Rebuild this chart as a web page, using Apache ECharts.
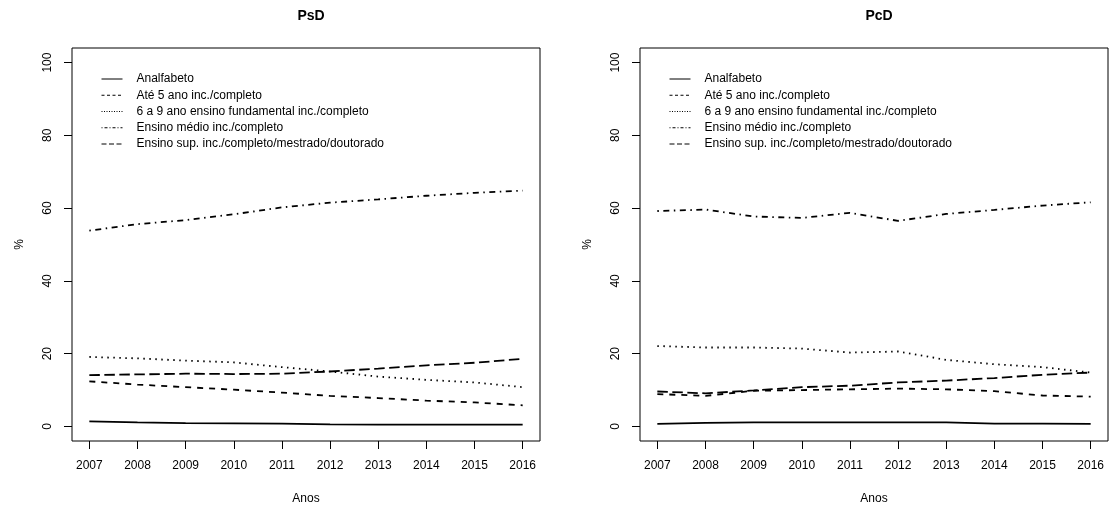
<!DOCTYPE html>
<html>
<head>
<meta charset="utf-8">
<script src="https://cdn.jsdelivr.net/npm/echarts@6/dist/echarts.min.js"></script>
<style>
html,body{margin:0;padding:0;background:#fff;}
#chart{width:1109px;height:507px;}
</style>
</head>
<body>
<div id="chart"></div>
<script>
// ---- data ----
const years = [2007, 2008, 2009, 2010, 2011, 2012, 2013, 2014, 2015, 2016];
const yTicks = [0, 20, 40, 60, 80, 100];
const panelTitles = ['PsD', 'PcD'];
const seriesNames = [
  'Analfabeto',
  'Até 5 ano inc./completo',
  '6 a 9 ano ensino fundamental inc./completo',
  'Ensino médio inc./completo',
  'Ensino sup. inc./completo/mestrado/doutorado'
];
// PsD panel
const psdAnalfabeto = [1.4, 1.1, 0.9, 0.85, 0.8, 0.55, 0.5, 0.5, 0.5, 0.5];
const psdAte5      = [12.4, 11.5, 10.8, 10.1, 9.3, 8.4, 7.8, 7.1, 6.6, 5.8];
const psd6a9       = [19.1, 18.7, 18.1, 17.6, 16.3, 15.1, 13.7, 12.8, 12.1, 10.8];
const psdMedio     = [53.8, 55.6, 56.7, 58.3, 60.2, 61.5, 62.4, 63.4, 64.2, 64.8];
const psdSup       = [14.1, 14.3, 14.5, 14.4, 14.5, 15.1, 15.9, 16.8, 17.5, 18.6];
// PcD panel
const pcdAnalfabeto = [0.7, 1.0, 1.1, 1.1, 1.1, 1.1, 1.1, 0.8, 0.8, 0.7];
const pcdAte5      = [8.9, 8.4, 9.8, 10.0, 10.2, 10.4, 10.2, 9.7, 8.5, 8.2];
const pcd6a9       = [22.1, 21.7, 21.7, 21.4, 20.3, 20.6, 18.3, 17.1, 16.3, 14.8];
const pcdMedio     = [59.2, 59.6, 57.7, 57.3, 58.7, 56.5, 58.4, 59.5, 60.7, 61.6];
const pcdSup       = [9.6, 9.1, 9.9, 10.8, 11.2, 12.1, 12.6, 13.3, 14.2, 14.8];

const panels = [
  [psdAnalfabeto, psdAte5, psd6a9, psdMedio, psdSup],
  [pcdAnalfabeto, pcdAte5, pcd6a9, pcdMedio, pcdSup]
];
// ---- styles ----
const dashes = ['solid', [6, 6], [1.5, 4.5], [1.5, 4.5, 6, 4.5], [10.5, 4.5]];
const legendDashes = ['solid', [3, 2.5], [1, 1.5], [1, 2, 3, 2], [5, 2.5]];
const FONT = 'Liberation Sans, Arial, sans-serif';
const grids = [
  {left: 72, top: 48, width: 468, height: 393},
  {left: 640, top: 48, width: 468, height: 393}
];

const chart = echarts.init(document.getElementById('chart'), null, {renderer: 'canvas'});

const option = {
  backgroundColor: '#fff',
  animation: false,
  textStyle: {fontFamily: FONT, color: '#000'},
  title: panelTitles.map((t, i) => ({
    text: t,
    left: grids[i].left + grids[i].width / 2,
    top: 4,
    textAlign: 'center',
    textStyle: {fontFamily: FONT, fontSize: 14, fontWeight: 'bold', color: '#000'}
  })),
  legend: grids.map((g, i) => ({
    data: seriesNames.map((n, k) => ({
      name: n,
      itemStyle: {opacity: 0, borderWidth: 0},
      lineStyle: {color: '#000', width: 1, type: legendDashes[k]}
    })),
    orient: 'vertical',
    left: g.left + 29,
    top: 73,
    padding: 0,
    itemWidth: 21,
    itemHeight: 12,
    itemGap: 4.25,
    selectedMode: false,
    itemStyle: {opacity: 0, borderWidth: 0},
    textStyle: {fontFamily: FONT, fontSize: 12, color: '#000', padding: [0, 0, 0, 9]}
  })),
  grid: grids.map(g => Object.assign({
    show: true, borderColor: '#000', borderWidth: 1, backgroundColor: 'transparent',
    containLabel: false, outerBoundsMode: 'none'
  }, g)),
  xAxis: grids.map((g, i) => ({
    type: 'value',
    gridIndex: i,
    min: years[0] - 0.36,
    max: years[years.length - 1] + 0.36,
    name: 'Anos',
    nameLocation: 'middle',
    nameGap: 52,
    nameTextStyle: {fontFamily: FONT, fontSize: 12, color: '#000'},
    axisLine: {show: false, onZero: false},
    axisTick: {show: true, inside: false, length: 8, customValues: years, lineStyle: {color: '#000'}},
    axisLabel: {customValues: years, margin: 19, fontFamily: FONT, fontSize: 12, color: '#000', formatter: v => String(v)},
    splitLine: {show: false}
  })),
  yAxis: grids.map((g, i) => ({
    type: 'value',
    gridIndex: i,
    min: -4,
    max: 104,
    name: '%',
    nameLocation: 'middle',
    nameGap: 46,
    nameRotate: 90,
    nameTextStyle: {fontFamily: FONT, fontSize: 12, color: '#000'},
    axisLine: {show: false, onZero: false},
    axisTick: {show: true, inside: false, length: 8, customValues: yTicks, lineStyle: {color: '#000'}},
    axisLabel: {customValues: yTicks, rotate: 90, margin: 18, fontFamily: FONT, fontSize: 12, color: '#000'},
    splitLine: {show: false}
  })),
  series: []
};

panels.forEach((vals, p) => {
  vals.forEach((arr, k) => {
    option.series.push({
      type: 'line',
      name: seriesNames[k],
      xAxisIndex: p,
      yAxisIndex: p,
      data: years.map((y, j) => [y, arr[j]]),
      symbol: 'none',
      showSymbol: false,
      smooth: false,
      itemStyle: {color: '#000'},
      lineStyle: {color: '#000', width: 1.8, type: dashes[k]}
    });
  });
});

chart.setOption(option);
</script>
</body>
</html>
